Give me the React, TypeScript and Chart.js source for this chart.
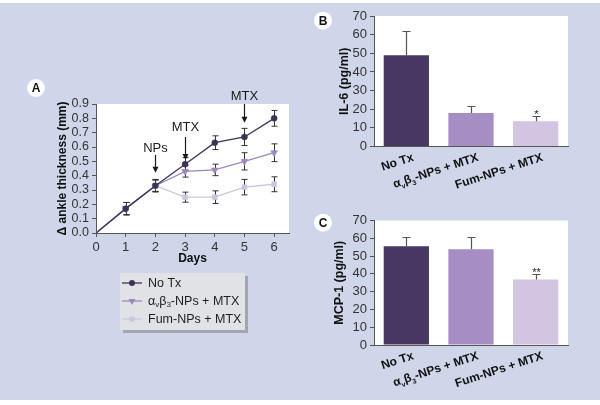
import React, { useEffect, useRef } from "react";
import { Chart, registerables } from "chart.js";
Chart.register(...registerables);

const FF = "'Liberation Sans', Arial, Helvetica, sans-serif";

// ---------- Panel A data ----------
const days = [0, 1, 2, 3, 4, 5, 6];
const seriesNames = ["No Tx", "α_vβ_3-NPs + MTX", "Fum-NPs + MTX"];
const noTx = [0, 0.17, 0.33, 0.48, 0.63, 0.67, 0.8];
const noTxErr = [0, 0.043, 0.044, 0.046, 0.048, 0.06, 0.055];
const avb3 = [0, 0.17, 0.33, 0.43, 0.44, 0.5, 0.56];
const avb3Err = [0, 0.043, 0.04, 0.04, 0.04, 0.06, 0.062];
const fum = [0, 0.17, 0.33, 0.25, 0.25, 0.32, 0.34];
const fumErr = [0, 0.043, 0.04, 0.035, 0.044, 0.054, 0.052];

// annotations (day, label, text level, arrow start, arrow tip)
const annDays = [2, 3, 5];
const annLabels = ["NPs", "MTX", "MTX"];
const annTextY = [0.59, 0.735, 0.95];
const annFrom = [0.545, 0.67, 0.9];
const annTo = [0.42, 0.51, 0.77];

// ---------- Panels B / C data ----------
const groups = ["No Tx", "α_vβ_3-NPs + MTX", "Fum-NPs + MTX"];
const il6 = [49, 18, 13.5];
const il6Err = [13, 3.5, 3];
const il6Sig = ["", "", "*"];
const mcp1 = [55.5, 53.8, 36.8];
const mcp1Err = [5, 6.7, 3.2];
const mcp1Sig = ["", "", "**"];

// ---------- styles ----------
const BG = "#cfd6e9";
const lineColors = ["#3d3356", "#9c88be", "#cdc5e0"];
const pointStyles = ["circle", "triangle", "rect"];
const pointRot = [0, 180, 0];
const pointRad = [3, 4, 3.5];
const barColors = ["#463862", "#a68dc4", "#d1c5e2"];

type Seg = { t: string; sub: boolean };
function segs(label: string): Seg[] {
  const out: Seg[] = [];
  let buf = "";
  let i = 0;
  while (i < label.length) {
    if (label[i] === "_" && i + 1 < label.length) {
      if (buf) out.push({ t: buf, sub: false });
      buf = "";
      out.push({ t: label[i + 1], sub: true });
      i += 2;
    } else {
      buf += label[i];
      i++;
    }
  }
  if (buf) out.push({ t: buf, sub: false });
  return out;
}
const plain = (l: string) => l.replace(/_/g, "");

function drawRich(ctx: CanvasRenderingContext2D, label: string, x: number, y: number, size: number, weight: string, color: string, align: "left" | "right") {
  const parts = segs(label);
  const main = `${weight} ${size}px ${FF}`;
  const subF = `${weight} ${Math.round(size * 0.62)}px ${FF}`;
  let w = 0;
  for (const p of parts) {
    ctx.font = p.sub ? subF : main;
    w += ctx.measureText(p.t).width;
  }
  let cx = align === "right" ? x - w : x;
  ctx.fillStyle = color;
  ctx.textAlign = "left";
  for (const p of parts) {
    ctx.font = p.sub ? subF : main;
    ctx.fillText(p.t, cx, y + (p.sub ? size * 0.28 : 0));
    cx += ctx.measureText(p.t).width;
  }
}

function drawLetter(ctx: CanvasRenderingContext2D, letter: string, x: number, y: number) {
  ctx.save();
  ctx.beginPath();
  ctx.arc(x, y, 9, 0, Math.PI * 2);
  ctx.fillStyle = "#ffffff";
  ctx.fill();
  ctx.fillStyle = "#111";
  ctx.font = `bold 12px ${FF}`;
  ctx.textAlign = "center";
  ctx.textBaseline = "middle";
  ctx.fillText(letter, x, y + 0.5);
  ctx.restore();
}

function drawMarker(ctx: CanvasRenderingContext2D, k: number, x: number, y: number) {
  ctx.fillStyle = lineColors[k];
  ctx.beginPath();
  const r = pointRad[k];
  if (pointStyles[k] === "circle") {
    ctx.arc(x, y, r, 0, Math.PI * 2);
  } else if (pointStyles[k] === "triangle") {
    ctx.moveTo(x - r * 0.87, y - r * 0.5);
    ctx.lineTo(x + r * 0.87, y - r * 0.5);
    ctx.lineTo(x, y + r);
    ctx.closePath();
  } else {
    const s = r * Math.SQRT1_2;
    ctx.rect(x - s, y - s, 2 * s, 2 * s);
  }
  ctx.fill();
}

const whiteArea = {
  id: "whiteArea",
  beforeDraw(chart: any) {
    const { ctx, chartArea: a } = chart;
    ctx.save();
    ctx.fillStyle = "#ffffff";
    ctx.fillRect(a.left, a.top, a.right - a.left, a.bottom - a.top);
    ctx.restore();
  },
};

const seriesVals = [noTx, avb3, fum];
const seriesErrs = [noTxErr, avb3Err, fumErr];

const lineExtras = {
  id: "lineExtras",
  beforeDatasetsDraw(chart: any) {
    const { ctx, scales } = chart;
    const x = scales.x, y = scales.y;
    ctx.save();
    ctx.strokeStyle = "#333";
    ctx.lineWidth = 1;
    seriesVals.forEach((vals, k) => {
      vals.forEach((v, i) => {
        const e = seriesErrs[k][i];
        if (!e) return;
        const px = Math.round(x.getPixelForValue(days[i])) + 0.5;
        const y1 = y.getPixelForValue(v - e);
        const y2 = y.getPixelForValue(v + e);
        ctx.beginPath();
        ctx.moveTo(px, y1);
        ctx.lineTo(px, y2);
        ctx.moveTo(px - 3, y1);
        ctx.lineTo(px + 3, y1);
        ctx.moveTo(px - 3, y2);
        ctx.lineTo(px + 3, y2);
        ctx.stroke();
      });
    });
    ctx.restore();
  },
  afterDraw(chart: any) {
    const { ctx, scales } = chart;
    const x = scales.x, y = scales.y;
    ctx.save();
    annDays.forEach((d, i) => {
      const px = Math.round(x.getPixelForValue(d)) + 0.5;
      const ty = y.getPixelForValue(annTextY[i]);
      const y0 = y.getPixelForValue(annFrom[i]);
      const y1 = y.getPixelForValue(annTo[i]);
      ctx.fillStyle = "#1a1a1a";
      ctx.font = `13px ${FF}`;
      ctx.textAlign = "center";
      ctx.textBaseline = "middle";
      ctx.fillText(annLabels[i], px, ty);
      ctx.strokeStyle = "#1a1a1a";
      ctx.lineWidth = 1.2;
      ctx.beginPath();
      ctx.moveTo(px, y0);
      ctx.lineTo(px, y1 - 5);
      ctx.stroke();
      ctx.beginPath();
      ctx.moveTo(px - 3, y1 - 6);
      ctx.lineTo(px + 3, y1 - 6);
      ctx.lineTo(px, y1);
      ctx.closePath();
      ctx.fill();
    });
    const lx = 120, ly = 273, lw = 125, lh = 57;
    ctx.fillStyle = "#a4a5ae";
    ctx.fillRect(lx + 3, ly + 3, lw, lh);
    ctx.fillStyle = "#e1e2e6";
    ctx.fillRect(lx, ly, lw, lh);
    seriesNames.forEach((n, k) => {
      const ey = ly + 10 + k * 18;
      ctx.strokeStyle = lineColors[k];
      ctx.lineWidth = 1.3;
      ctx.beginPath();
      ctx.moveTo(lx + 2, ey);
      ctx.lineTo(lx + 22, ey);
      ctx.stroke();
      drawMarker(ctx, k, lx + 12, ey);
      ctx.textBaseline = "middle";
      drawRich(ctx, n, lx + 28, ey + 0.5, 12.5, "normal", "#1e1e1e", "left");
    });
    drawLetter(ctx, "A", 36, 88);
    ctx.restore();
  },
};

function lineConfig(): any {
  return {
    type: "line",
    data: {
      datasets: seriesVals.map((arr, k) => ({
        label: plain(seriesNames[k]),
        data: days.map((d, i) => ({ x: d, y: arr[i] })),
        borderColor: lineColors[k],
        backgroundColor: lineColors[k],
        borderWidth: 1.3,
        pointStyle: pointStyles[k],
        rotation: pointRot[k],
        pointRadius: days.map((d) => (d === 0 ? 0 : pointRad[k])),
        pointBorderWidth: 0.5,
        tension: 0,
      })),
    },
    options: {
      responsive: false,
      animation: false,
      layout: { padding: { left: 0, right: 11, top: 104, bottom: 0 } },
      plugins: { legend: { display: false }, tooltip: { enabled: false } },
      scales: {
        x: {
          type: "linear",
          min: 0,
          max: 6.5,
          afterFit: (s: any) => {
            s.height = 400 - 233;
          },
          ticks: { stepSize: 1, autoSkip: false, includeBounds: false, font: { family: FF, size: 13 }, color: "#333", padding: 3, callback: (v: any) => String(v) },
          grid: { display: true, drawOnChartArea: false, drawTicks: true, tickLength: 4, color: "#555" },
          border: { display: true, color: "#555" },
          title: { display: true, text: "Days", font: { family: FF, size: 12, weight: "bold" }, color: "#111", padding: { top: 0, bottom: 134 } },
        },
        y: {
          min: 0,
          max: 0.9,
          afterFit: (s: any) => {
            s.width = 96;
          },
          ticks: { stepSize: 0.1, autoSkip: false, font: { family: FF, size: 12.5 }, color: "#333", padding: 3, callback: (v: any) => Number(v).toFixed(1) },
          grid: { display: true, drawOnChartArea: false, drawTicks: true, tickLength: 4, color: "#555" },
          border: { display: true, color: "#555" },
          title: { display: true, text: "Δ ankle thickness (mm)", font: { family: FF, size: 12, weight: "bold" }, color: "#111", padding: { top: 55.5, bottom: 0 } },
        },
      },
    },
    plugins: [whiteArea, lineExtras],
  };
}

function barExtras(vals: number[], errs: number[], sigs: string[], letter: string, letterY: number) {
  return {
    id: "barExtras",
    afterDatasetsDraw(chart: any) {
      const { ctx, scales } = chart;
      const y = scales.y;
      const meta = chart.getDatasetMeta(0);
      ctx.save();
      ctx.strokeStyle = "#555";
      ctx.lineWidth = 1.2;
      vals.forEach((v, i) => {
        const px = Math.round(meta.data[i].x) + 0.5;
        const yTop = y.getPixelForValue(v);
        const yErr = Math.round(y.getPixelForValue(v + errs[i])) + 0.5;
        ctx.beginPath();
        ctx.moveTo(px, yTop);
        ctx.lineTo(px, yErr);
        ctx.moveTo(px - 4, yErr);
        ctx.lineTo(px + 4, yErr);
        ctx.stroke();
        if (sigs[i]) {
          ctx.fillStyle = "#222";
          ctx.font = `11px ${FF}`;
          ctx.textAlign = "center";
          ctx.textBaseline = "alphabetic";
          ctx.fillText(sigs[i], px, yErr + 1.5);
        }
      });
      ctx.restore();
    },
    afterDraw(chart: any) {
      const { ctx, scales } = chart;
      const x = scales.x;
      const axisY = chart.chartArea.bottom;
      ctx.save();
      groups.forEach((g, i) => {
        const cx = x.getPixelForValue(i);
        ctx.save();
        ctx.translate(cx + 8, axisY + 14);
        ctx.rotate((-18 * Math.PI) / 180);
        ctx.textBaseline = "alphabetic";
        drawRich(ctx, g, 0, 0, 12, "bold", "#111", "right");
        ctx.restore();
      });
      drawLetter(ctx, letter, 23, letterY);
      ctx.restore();
    },
  };
}

function barConfig(vals: number[], errs: number[], sigs: string[], title: string, titlePad: number, padTop: number, xH: number, letter: string, letterY: number): any {
  return {
    type: "bar",
    data: {
      labels: groups.map(plain),
      datasets: [{ data: vals, backgroundColor: barColors, borderWidth: 0, barPercentage: 0.7, categoryPercentage: 1 }],
    },
    options: {
      responsive: false,
      animation: false,
      layout: { padding: { left: 0, right: 32, top: padTop, bottom: 0 } },
      plugins: { legend: { display: false }, tooltip: { enabled: false } },
      scales: {
        x: {
          afterFit: (s: any) => {
            s.height = xH;
          },
          ticks: { display: false },
          grid: { display: false },
          border: { display: true, color: "#555" },
        },
        y: {
          min: 0,
          max: 70,
          afterFit: (s: any) => {
            s.width = 74;
          },
          ticks: { stepSize: 10, autoSkip: false, font: { family: FF, size: 13 }, color: "#333", padding: 3 },
          grid: { display: true, drawOnChartArea: false, drawTicks: true, tickLength: 4, color: "#555" },
          border: { display: true, color: "#555" },
          title: { display: true, text: title, font: { family: FF, size: 12.5, weight: "bold" }, color: "#111", padding: { top: titlePad, bottom: 0 } },
        },
      },
    },
    plugins: [whiteArea, barExtras(vals, errs, sigs, letter, letterY)],
  };
}

function ChartCanvas({ make, left, top, w, h }: { make: () => any; left: number; top: number; w: number; h: number }) {
  const ref = useRef<HTMLCanvasElement>(null);
  useEffect(() => {
    const c = new Chart(ref.current as HTMLCanvasElement, make());
    return () => c.destroy();
  }, []);
  return <canvas ref={ref} width={w} height={h} style={{ position: "absolute", left, top, width: w, height: h }} />;
}

export default function App() {
  return (
    <div style={{ position: "absolute", left: 0, top: 0, width: 600, height: 405, background: "#ffffff", overflow: "hidden" }}>
      <div style={{ position: "absolute", left: 0, top: 3, width: 600, height: 397, background: BG }} />
      <ChartCanvas make={lineConfig} left={0} top={0} w={300} h={400} />
      <ChartCanvas make={() => barConfig(il6, il6Err, il6Sig, "IL-6 (pg/ml)", 37.5, 16, 53.5, "B", 20.7)} left={300} top={0} w={300} h={200} />
      <ChartCanvas make={() => barConfig(mcp1, mcp1Err, mcp1Sig, "MCP-1 (pg/ml)", 32.5, 20.5, 60, "C", 22.7)} left={300} top={200} w={300} h={205} />
    </div>
  );
}
